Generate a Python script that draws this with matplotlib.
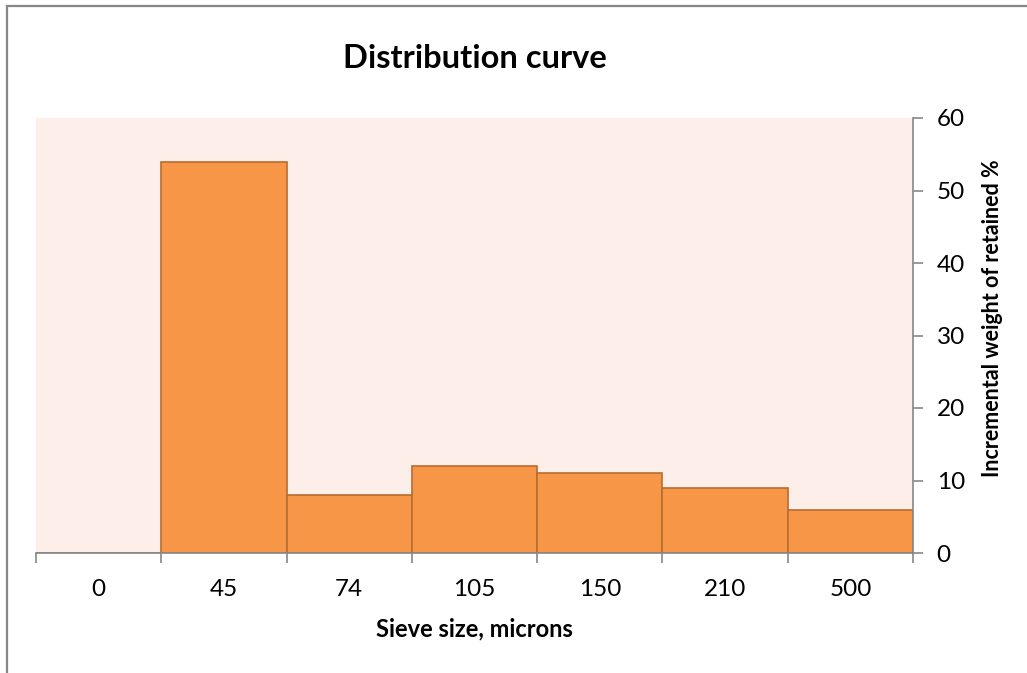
import matplotlib
matplotlib.use("Agg")
import matplotlib.pyplot as plt
import numpy as np
from matplotlib.patches import Rectangle

plt.rcParams['font.family'] = ['Lato', 'DejaVu Sans']

sieve_sizes = ["0", "45", "74", "105", "150", "210", "500"]
retained_pct = [0, 54, 8, 12, 11, 9, 6]
y_ticks = [0, 10, 20, 30, 40, 50, 60]

W, H = 1027, 673
fig = plt.figure(figsize=(W / 100, H / 100), dpi=100)
fig.patch.set_facecolor('white')

# outer chart frame
fig.patches.append(Rectangle((6.5 / W, -0.05), 1.2, 1.05 - 6.5 / H,
                             transform=fig.transFigure, fill=False,
                             edgecolor='#878787', linewidth=1.6, zorder=0))

left, right, top, bottom = 36, 913, 118, 553
ax = fig.add_axes([left / W, 1 - bottom / H, (right - left) / W, (bottom - top) / H])
ax.set_facecolor('#FDEEE9')

x = np.arange(len(sieve_sizes))
ax.bar(x, retained_pct, width=1.0, color='#F79646', edgecolor='#B66D31',
       linewidth=1.2, zorder=2)

ax.set_xlim(-0.5, len(sieve_sizes) - 0.5)
ax.set_ylim(0, 60)

for s in ['top', 'left']:
    ax.spines[s].set_visible(False)
for s in ['bottom', 'right']:
    ax.spines[s].set_color('#878787')
    ax.spines[s].set_linewidth(1.2)
    ax.spines[s].set_zorder(3)

ax.set_xticks(x)
ax.set_xticklabels(sieve_sizes)
ax.set_xticks(np.arange(-0.5, len(sieve_sizes)), minor=True)
ax.tick_params(axis='x', which='major', length=0, pad=19, labelsize=17.5)
ax.tick_params(axis='x', which='minor', length=7, width=1.2, color='#878787',
               direction='out')

ax.yaxis.tick_right()
ax.set_yticks(y_ticks)
ax.tick_params(axis='y', which='major', length=7, width=1.2, color='#878787',
               direction='out', labelsize=17.5, pad=10)

ax.set_xlabel('Sieve size, microns', fontsize=17, fontweight='bold', labelpad=12)
ax.yaxis.set_label_position('right')
ax.set_ylabel('Incremental weight of retained %', fontsize=15.5, fontweight='bold')
ax.yaxis.set_label_coords((982 - left) / (right - left), (bottom - 318) / (bottom - top))

fig.text((left + right) / 2 / W, 1 - 58 / H, 'Distribution curve',
         ha='center', va='center', fontsize=23.5, fontweight='bold')

fig.savefig('out.png', dpi=100)
